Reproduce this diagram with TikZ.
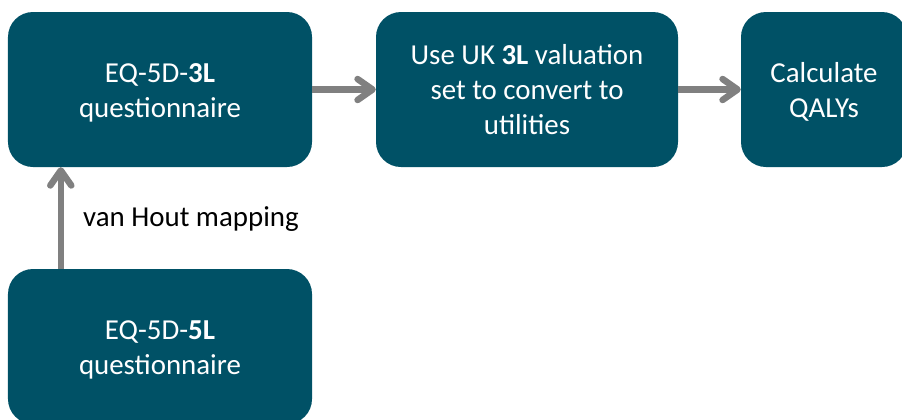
\documentclass[tikz,border=0pt]{standalone}
\usepackage{fontspec}
\setmainfont{Carlito}
\usetikzlibrary{arrows.meta}
\definecolor{boxteal}{RGB}{0,81,102}
\definecolor{arrgray}{RGB}{128,128,128}
\newcommand{\bstrut}{\rule[-5bp]{0pt}{30bp}}
\tikzset{
  stepbox/.style={draw=none, fill=boxteal, rounded corners=25bp, text=white,
    minimum height=155bp, inner sep=0pt, align=center,
    font=\fontsize{28.9bp}{35bp}\selectfont},
  arr/.style={draw=arrgray, line width=6.5bp,
    -{Straight Barb[length=15bp,width=21bp,line cap=round,line join=round]}},
  lbl/.style={inner sep=0pt, text=black, font=\fontsize{28.9bp}{35bp}\selectfont}
}
\begin{document}
\begin{tikzpicture}[x=1bp,y=-1bp]
\useasboundingbox (0,0) rectangle (902,419);
\clip (0,0) rectangle (902,419);
\node[stepbox, minimum width=304bp] (b1) at (160,89.5) {\bstrut EQ-5D-\textbf{3L}\\questionnaire\bstrut};
\node[stepbox, minimum width=302bp] (b2) at (527,89.5) {\bstrut Use UK \textbf{3L} valuation\\set to convert to\\utilities\bstrut};
\node[stepbox, minimum width=166bp] (b3) at (824,89.5) {\bstrut Calculate\\QALYs\bstrut};
\node[stepbox, minimum width=304bp] (b4) at (160,346.5) {\bstrut EQ-5D-\textbf{5L}\\questionnaire\bstrut};
\draw[arr] (b1.east) -- (b2.west);
\draw[arr] (b2.east) -- (b3.west);
\draw[arr] ([xshift=53bp]b4.north west) -- ([xshift=53bp]b1.south west);
\node[lbl, anchor=base west] (lab) at (83,226) {van Hout mapping};
\end{tikzpicture}
\end{document}
